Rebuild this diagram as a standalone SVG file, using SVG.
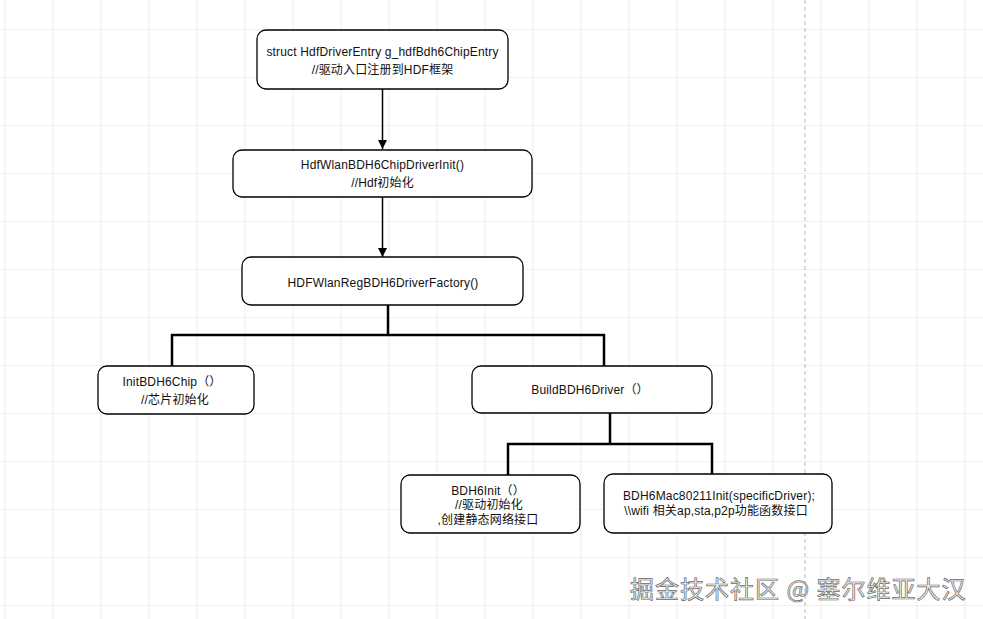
<svg xmlns="http://www.w3.org/2000/svg" width="983" height="619" viewBox="0 0 983 619">
<defs>
<pattern id="grid" x="4.5" y="29" width="48" height="48" patternUnits="userSpaceOnUse">
<path d="M0 0 H48 M0 0 V48" fill="none" stroke="#e1e1e1" stroke-width="1.2"/>
</pattern>
<marker id="arr" viewBox="0 0 10 10" refX="10" refY="5" markerWidth="9" markerHeight="9" markerUnits="userSpaceOnUse" orient="auto">
<path d="M0 0 L10 5 L0 10 Z" fill="#000"/>
</marker>
</defs>
<style>
.box{fill:#fff;stroke:#000;stroke-width:1.3}
.t{font-family:"Liberation Sans","Noto Sans CJK SC",sans-serif;font-size:12px;letter-spacing:0.17px;fill:#111;text-anchor:middle}
.c{fill:none;stroke:#000}
.wm{font-family:"Noto Sans CJK SC",sans-serif;font-size:24px;letter-spacing:1px;fill:#f4f4f4;stroke:#6a6a6a;stroke-width:0.7}
</style>
<rect width="983" height="619" fill="#fff"/>
<rect width="983" height="619" fill="url(#grid)"/>
<line x1="805" y1="0" x2="805" y2="619" stroke="#b8b8b8" stroke-width="1" stroke-dasharray="4,3"/>
<g id="connectors">
<line class="c" x1="382.5" y1="89" x2="382.5" y2="149" stroke-width="1.5" marker-end="url(#arr)"/>
<line class="c" x1="382.5" y1="197" x2="382.5" y2="257" stroke-width="1.5" marker-end="url(#arr)"/>
<path class="c" stroke-width="2.5" d="M388 305 V335 M172 366 V335 H604 V366"/>
<path class="c" stroke-width="2.5" d="M610 413 V444 M508 475 V444 H712 V474"/>
</g>
<g id="entry">
<rect class="box" x="257" y="30" width="251" height="59" rx="9"/>
<text class="t" x="382.5" y="56">struct HdfDriverEntry g_hdfBdh6ChipEntry</text>
<text class="t" x="382.5" y="74">//驱动入口注册到HDF框架</text>
</g>
<g id="driverinit">
<rect class="box" x="233" y="150" width="299" height="47" rx="9"/>
<text class="t" x="382.5" y="169">HdfWlanBDH6ChipDriverInit()</text>
<text class="t" x="382.5" y="187">//Hdf初始化</text>
</g>
<g id="factory">
<rect class="box" x="242" y="257" width="281" height="48" rx="9"/>
<text class="t" x="383" y="287">HDFWlanRegBDH6DriverFactory()</text>
</g>
<g id="initchip">
<rect class="box" x="98" y="366" width="156" height="48" rx="9"/>
<text class="t" x="172" y="386">InitBDH6Chip（）</text>
<text class="t" x="175" y="404">//芯片初始化</text>
</g>
<g id="builddriver">
<rect class="box" x="472" y="366" width="240" height="47" rx="9"/>
<text class="t" x="590" y="394">BuildBDH6Driver（）</text>
</g>
<g id="bdh6init">
<rect class="box" x="401" y="475" width="179" height="58" rx="9"/>
<text class="t" x="488" y="495">BDH6Init（）</text>
<text class="t" x="489" y="509">//驱动初始化</text>
<text class="t" x="488" y="524">,创建静态网络接口</text>
</g>
<g id="mac80211">
<rect class="box" x="604" y="474" width="228" height="59" rx="9"/>
<text class="t" x="719" y="500">BDH6Mac80211Init(specificDriver);</text>
<text class="t" x="716" y="515">\\wifi 相关ap,sta,p2p功能函数接口</text>
</g>
<text class="wm" x="630" y="598">掘金技术社区 @ 塞尔维亚大汉</text>
</svg>
